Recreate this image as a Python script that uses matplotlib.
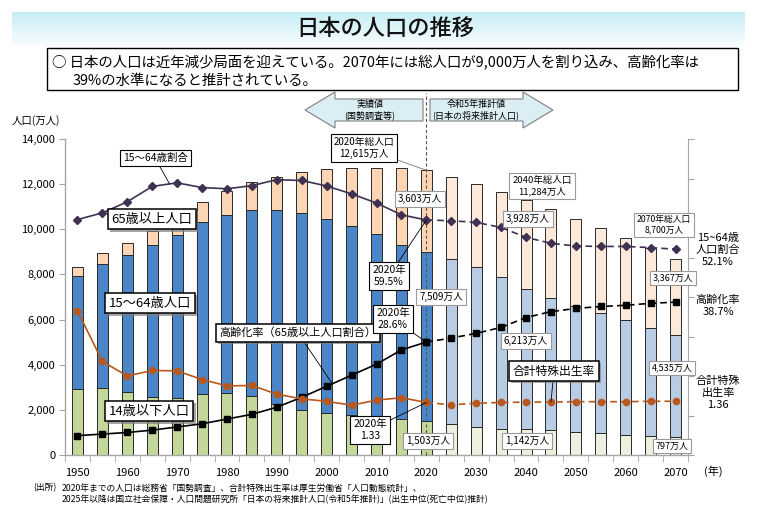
import matplotlib
matplotlib.use('Agg')
import matplotlib.pyplot as plt
import numpy as np
from matplotlib.patches import Polygon, Rectangle
import matplotlib.patheffects as pe
from matplotlib.ticker import FuncFormatter, FixedLocator

plt.rcParams['font.family'] = ['Noto Sans CJK JP', 'DejaVu Sans']

# ---------------- data ----------------
years = [1950, 1955, 1960, 1965, 1970, 1975, 1980, 1985, 1990, 1995, 2000, 2005,
         2010, 2015, 2020, 2025, 2030, 2035, 2040, 2045, 2050, 2055, 2060, 2065, 2070]
pop_0_14 = [2943, 2980, 2807, 2553, 2515, 2722, 2751, 2603, 2249, 2001, 1847, 1752,
            1680, 1595, 1503, 1363, 1240, 1169, 1142, 1103, 1041, 966, 893, 831, 797]
pop_15_64 = [4966, 5473, 6047, 6744, 7212, 7581, 7883, 8251, 8590, 8716, 8622, 8409,
             8103, 7728, 7509, 7310, 7076, 6722, 6213, 5832, 5540, 5307, 5078, 4809, 4535]
pop_65 = [411, 475, 535, 624, 739, 887, 1065, 1247, 1489, 1826, 2204, 2576,
          2925, 3387, 3603, 3653, 3696, 3773, 3928, 3945, 3888, 3778, 3644, 3519, 3367]
share_15_64 = [59.6, 61.3, 64.1, 68.0, 68.9, 67.7, 67.4, 68.2, 69.7, 69.5, 68.1, 66.1,
               63.8, 60.8, 59.5, 59.3, 58.9, 57.6, 55.1, 53.6, 52.9, 52.8, 52.8, 52.5, 52.1]
aging_rate = [4.9, 5.3, 5.7, 6.3, 7.1, 7.9, 9.1, 10.3, 12.1, 14.6, 17.4, 20.2,
              23.0, 26.6, 28.6, 29.6, 30.8, 32.3, 34.8, 36.3, 37.1, 37.6, 37.9, 38.4, 38.7]
tfr = [3.65, 2.37, 2.00, 2.14, 2.13, 1.91, 1.75, 1.76, 1.54, 1.42, 1.36, 1.26,
       1.39, 1.45, 1.33, 1.27, 1.31, 1.33, 1.34, 1.34, 1.35, 1.35, 1.35, 1.36, 1.36]
base_year = 2020
xtick_years = [1950, 1960, 1970, 1980, 1990, 2000, 2010, 2020, 2030, 2040, 2050, 2060, 2070]
ytick_vals = [0, 2000, 4000, 6000, 8000, 10000, 12000, 14000]

years_a = np.array(years)
p0 = np.array(pop_0_14)
p1 = np.array(pop_15_64)
p2 = np.array(pop_65)
total = p0 + p1 + p2
actual = years_a <= base_year

# ---------------- figure ----------------
W, H = 770, 512
fig = plt.figure(figsize=(W / 100, H / 100), dpi=100)
fig.patch.set_facecolor('white')


def fx(x):
    return x / W


def fy(y):
    return 1 - y / H


def fp(x, y):
    return (fx(x), fy(y))


# title banner with gradient
bax = fig.add_axes([fx(12), fy(45), fx(745) - fx(12), fy(12) - fy(45)])
grad = np.linspace(0, 1, 100).reshape(-1, 1)
c_top = np.array([0.78, 0.93, 0.96])
c_bot = np.array([0.97, 0.99, 1.0])
img = c_top[None, None, :] * (1 - grad[:, :, None]) + c_bot[None, None, :] * grad[:, :, None]
bax.imshow(img, aspect='auto', extent=[0, 1, 0, 1])
bax.set_axis_off()
fig.text(fx(385), fy(28), '日本の人口の推移', ha='center', va='center', fontsize=16,
         fontweight='medium', color='#111111')

# description box
fig.add_artist(Rectangle(fp(47, 90), fx(738) - fx(47), fy(48) - fy(90),
                         transform=fig.transFigure, fill=False, edgecolor='black', lw=1.0))
fig.text(fx(52), fy(63), '○ 日本の人口は近年減少局面を迎えている。2070年には総人口が9,000万人を割り込み、高齢化率は',
         ha='left', va='center', fontsize=10.4)
fig.text(fx(73), fy(81), '39%の水準になると推計されている。', ha='left', va='center', fontsize=10.4)

# arrows
arrow_fc = '#dbeef4'
arrow_ec = '#7f7f7f'
left_arrow = [(305, 110), (335, 92), (335, 99), (423, 99), (423, 121), (335, 121), (335, 128)]
right_arrow = [(553, 110), (523, 92), (523, 99), (430, 99), (430, 121), (523, 121), (523, 128)]
for pts in (left_arrow, right_arrow):
    fig.add_artist(Polygon([fp(x, y) for x, y in pts], closed=True, transform=fig.transFigure,
                           facecolor=arrow_fc, edgecolor=arrow_ec, lw=0.8))
fig.text(fx(370), fy(110), '実績値\n(国勢調査等)', ha='center', va='center', fontsize=6.5,
         linespacing=1.25)
fig.text(fx(476), fy(110), '令和5年推計値\n(日本の将来推計人口)', ha='center', va='center',
         fontsize=6.5, linespacing=1.25)

fig.text(fx(12), fy(121), '人口(万人)', ha='left', va='center', fontsize=7.5)

# ---------------- main axes ----------------
ax = fig.add_axes([fx(65), fy(455), fx(688) - fx(65), fy(139) - fy(455)])
ax.set_xlim(1947.5, 2072.5)
ax.set_ylim(0, 14000)

col_g = np.where(actual, '#c4d79b', '#ebf1de')
col_b = np.where(actual, '#4a86c8', '#b8cce4')
col_o = np.where(actual, '#fcd5b4', '#fde9d9')
edge = '#2a2a2a'
bw = 2.2
ax.bar(years_a, p0, width=bw, color=col_g, edgecolor=edge, lw=0.7, zorder=2)
ax.bar(years_a, p1, width=bw, bottom=p0, color=col_b, edgecolor=edge, lw=0.7, zorder=2)
ax.bar(years_a, p2, width=bw, bottom=p0 + p1, color=col_o, edgecolor=edge, lw=0.7, zorder=2)

for s in ['top', 'right']:
    ax.spines[s].set_visible(False)
for s in ['left', 'bottom']:
    ax.spines[s].set_color('#a6a6a6')
    ax.spines[s].set_linewidth(1.0)

ax.yaxis.set_major_locator(FixedLocator(ytick_vals))
ax.yaxis.set_major_formatter(FuncFormatter(lambda v, p: f'{int(v):,}'))
ax.tick_params(axis='y', labelsize=8, length=4, color='#a6a6a6', pad=3)
ax.xaxis.set_major_locator(FixedLocator(xtick_years))
ax.xaxis.set_minor_locator(FixedLocator([y - 2.5 for y in years] + [years[-1] + 2.5]))
ax.tick_params(axis='x', which='major', labelsize=8, length=0, pad=9)
ax.tick_params(axis='x', which='minor', length=5, color='#a6a6a6')

# 2020 dashed divider
ax.plot([base_year, base_year], [0, (455 - 93) / 316], transform=ax.get_xaxis_transform(),
        clip_on=False, ls=(0, (3, 2)), color='#555555', lw=0.8, zorder=6)

# ---------------- secondary axes ----------------
ax2 = ax.twinx()
ax2.set_ylim(0, 80)
ax2.set_xlim(1947.5, 2072.5)
for s in ['top', 'left', 'bottom']:
    ax2.spines[s].set_visible(False)
ax2.spines['right'].set_color('#a6a6a6')
ax2.yaxis.set_major_locator(FixedLocator(list(range(0, 81, 10))))
ax2.tick_params(axis='y', length=4, color='#a6a6a6', labelright=False)

ax3 = ax.twinx()
ax3.set_ylim(0, 8)
ax3.set_xlim(1947.5, 2072.5)
ax3.set_axis_off()

sh = np.array(share_15_64)
ag = np.array(aging_rate)
tf = np.array(tfr)
proj = years_a >= base_year

c_sh = '#3f3151'
c_ag = '#000000'
c_tf = '#b9571d'
ax2.plot(years_a[actual], sh[actual], color=c_sh, lw=1.2, marker='D', ms=4, zorder=5)
ax2.plot(years_a[proj], sh[proj], color=c_sh, lw=1.2, ls=(0, (4, 2.5)), marker='D', ms=4, zorder=5)
ax2.plot(years_a[actual], ag[actual], color=c_ag, lw=1.2, marker='s', ms=4.5, zorder=5)
ax2.plot(years_a[proj], ag[proj], color=c_ag, lw=1.2, ls=(0, (4, 2.5)), marker='s', ms=4.5, zorder=5)
ax3.plot(years_a[actual], tf[actual], color=c_tf, lw=1.2, marker='o', ms=4.5, zorder=5)
ax3.plot(years_a[proj], tf[proj], color=c_tf, lw=1.2, ls=(0, (4, 2.5)), marker='o', ms=4.5, zorder=5)

fig.text(fx(704), fy(471), '(年)', ha='left', va='center', fontsize=8)

# ---------------- annotations ----------------
big_box = dict(boxstyle='square,pad=0.3', fc='white', ec='black', lw=1.1)
small_box = dict(boxstyle='square,pad=0.3', fc='white', ec='#9a9a9a', lw=0.8)
mid_box = dict(boxstyle='square,pad=0.3', fc='white', ec='black', lw=0.8)
leader = dict(arrowstyle='-', color='black', lw=0.6, shrinkA=0, shrinkB=0)
shadow = [pe.withSimplePatchShadow(offset=(1.5, -1.5), shadow_rgbFace='#7f7f7f', alpha=0.7)]


def add_shadow(t, box):
    if box is big_box:
        t.get_bbox_patch().set_path_effects(shadow)


def label(text, x, y, box, size, ha='center'):
    t = ax3.annotate(text, xy=fp(x, y), xycoords='figure fraction', ha=ha, va='center',
                     fontsize=size, bbox=box, zorder=20, linespacing=1.15)
    add_shadow(t, box)


def lead(text, x, y, target_ax, tx, ty, box, size, arrow=leader):
    t = ax3.annotate(text, xy=(tx, ty), xycoords=target_ax.transData, xytext=fp(x, y),
                     textcoords='figure fraction', ha='center', va='center', fontsize=size,
                     bbox=box, arrowprops=arrow, zorder=20, linespacing=1.15)
    add_shadow(t, box)


i2020 = years.index(base_year)
i2045 = years.index(2045)

lead('15～64歳割合', 155, 158, ax2, 1968.5, 68.6, mid_box, 7.5)
label('65歳以上人口', 152, 219, big_box, 9.5)
label('15～64歳人口', 150, 303, big_box, 9.5)
label('14歳以下人口', 149, 411, big_box, 9.5)
lead('高齢化率（65歳以上人口割合）', 298, 333, ax2, 2001, 18.3, big_box, 8)
lead('合計特殊出生率', 554, 371, ax3, 2045, tf[i2045], big_box, 8.5)

lead('2020年総人口\n12,615万人', 364, 148, ax, base_year, total[i2020],
     mid_box, 7, arrow=dict(arrowstyle='-', color='#777777', lw=0.6, shrinkA=0, shrinkB=0))
label('3,603万人', 420, 199, small_box, 7)
lead('2020年\n59.5%', 389, 276, ax2, base_year, sh[i2020], mid_box, 7.5)
label('7,509万人', 441, 297, small_box, 7)
lead('2020年\n28.6%', 393, 319, ax2, base_year, ag[i2020], mid_box, 7.5)
lead('2020年\n1.33', 370, 430, ax3, base_year, tf[i2020], mid_box, 7.5)
label('1,503万人', 428, 441, small_box, 7)

label('2040年総人口\n11,284万人', 542, 186, small_box, 6.8)
label('3,928万人', 528, 219, small_box, 7)
label('6,213万人', 526, 341, small_box, 7)
label('1,142万人', 527, 441, small_box, 7)

label('2070年総人口\n8,700万人', 664, 225, small_box, 6.3)
label('3,367万人', 673, 278, small_box, 6.5)
label('4,535万人', 672, 368, small_box, 6.5)
label('797万人', 672, 446, small_box, 6.5)

fig.text(fx(718), fy(250), '15~64歳\n人口割合\n52.1%', ha='center', va='center', fontsize=8,
         linespacing=1.2)
fig.text(fx(718), fy(306), '高齢化率\n38.7%', ha='center', va='center', fontsize=8,
         linespacing=1.2)
fig.text(fx(718), fy(393), '合計特殊\n出生率\n1.36', ha='center', va='center', fontsize=8,
         linespacing=1.2)

# source
fig.text(fx(33), fy(488), '(出所)', ha='left', va='center', fontsize=6.3)
fig.text(fx(62), fy(488), '2020年までの人口は総務省「国勢調査」、合計特殊出生率は厚生労働省「人口動態統計」、',
         ha='left', va='center', fontsize=6.3)
fig.text(fx(62), fy(499), '2025年以降は国立社会保障・人口問題研究所「日本の将来推計人口(令和5年推計)」(出生中位(死亡中位)推計)',
         ha='left', va='center', fontsize=6.3)

fig.savefig('out.png', dpi=100)
